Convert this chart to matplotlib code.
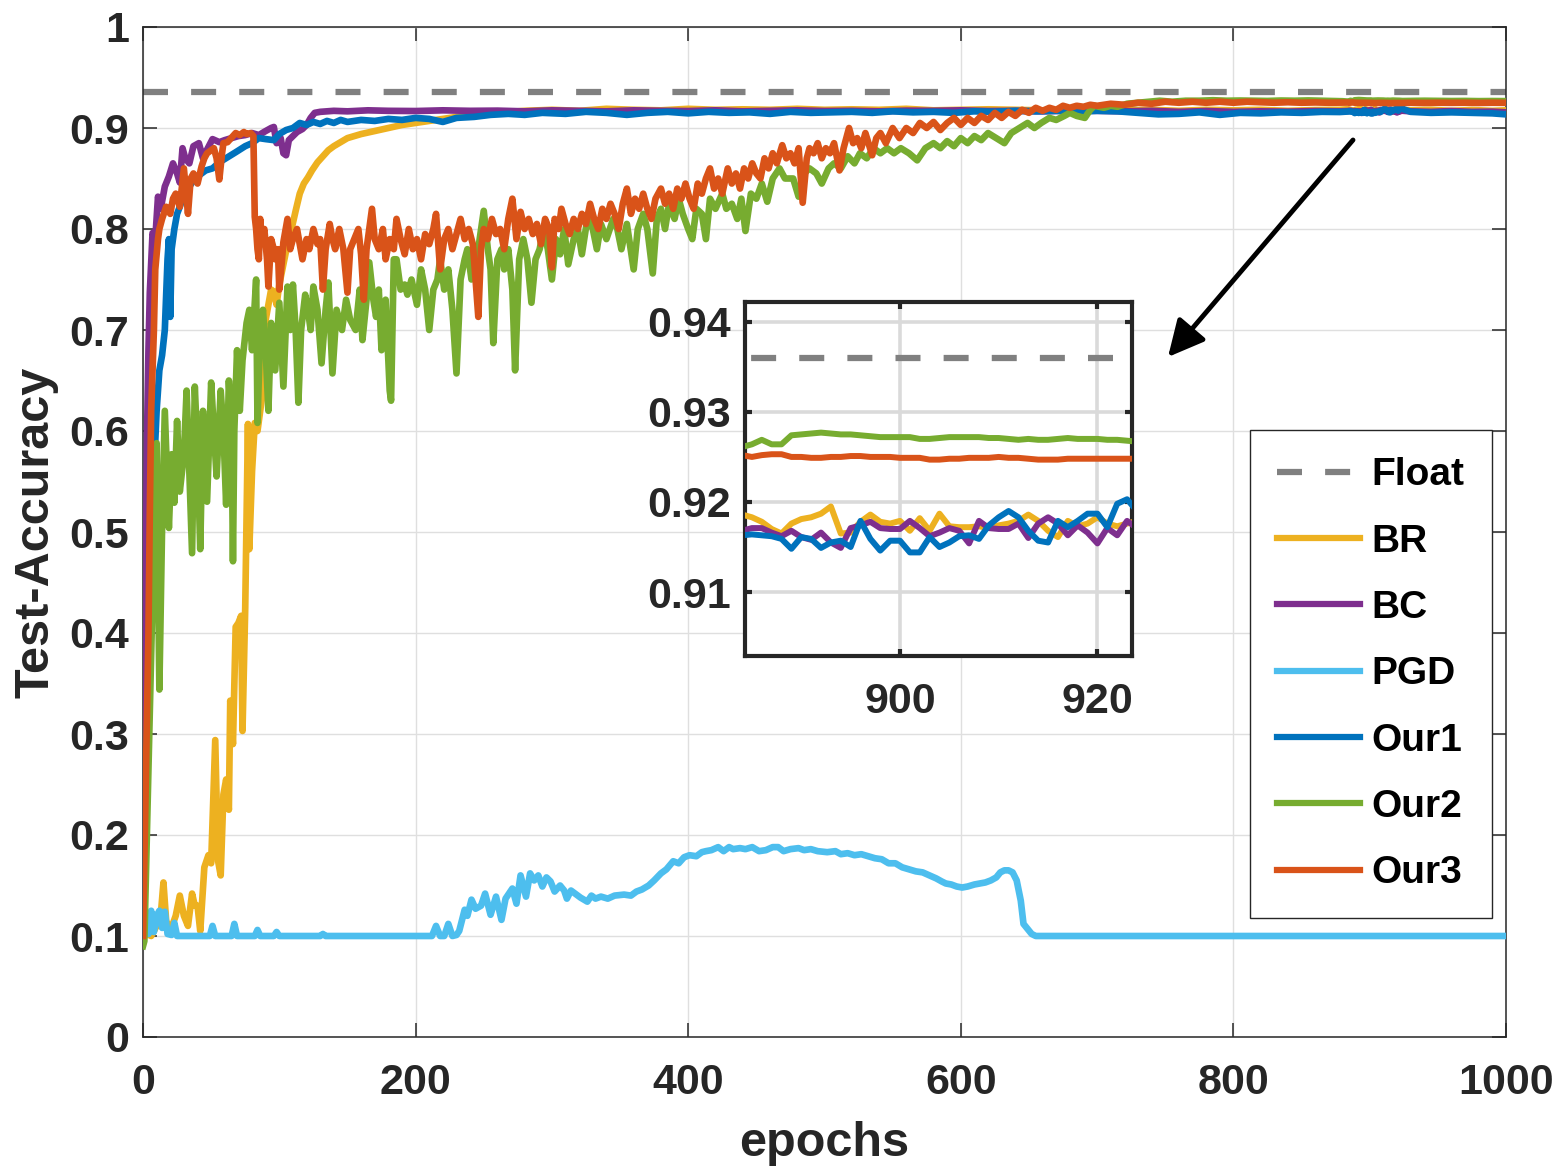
import numpy as np
import matplotlib
matplotlib.use("Agg")
import matplotlib.pyplot as plt
from matplotlib.lines import Line2D

# =========================
# DADOS
# =========================

FLOAT_ACC = 0.936

# (epoch, accuracy)
BR_POINTS = [
    (0, 0.100), (3, 0.102), (6, 0.100), (10, 0.110), (13, 0.120), (15, 0.153), (17, 0.115),
    (20, 0.105), (24, 0.120), (27, 0.140), (30, 0.120), (33, 0.110), (36, 0.142), (38, 0.130),
    (40, 0.130), (42, 0.105), (45, 0.168), (48, 0.180), (50, 0.172), (53, 0.294), (55, 0.175),
    (57, 0.160), (59, 0.240), (61, 0.255), (63, 0.225), (64, 0.333), (66, 0.290), (68, 0.406),
    (70, 0.410), (72, 0.417), (73, 0.303), (75, 0.425), (77, 0.607), (78, 0.483), (80, 0.560),
    (82, 0.608), (84, 0.600), (86, 0.620), (88, 0.640), (90, 0.710), (92, 0.725), (94, 0.740),
    (96, 0.738), (98, 0.725), (100, 0.745), (103, 0.765), (106, 0.785), (109, 0.800),
    (112, 0.818), (115, 0.835), (118, 0.845), (121, 0.851), (124, 0.858), (128, 0.866),
    (132, 0.872), (136, 0.878), (140, 0.882), (145, 0.886), (150, 0.890), (160, 0.894),
    (170, 0.897), (180, 0.900), (190, 0.903), (200, 0.905), (215, 0.908), (230, 0.911),
    (245, 0.913), (260, 0.915), (280, 0.917), (300, 0.918), (320, 0.917), (340, 0.919),
    (360, 0.918), (380, 0.9175), (400, 0.919), (420, 0.918), (440, 0.9185), (460, 0.918),
    (480, 0.919), (500, 0.918), (520, 0.9185), (540, 0.918), (560, 0.919), (580, 0.9175),
    (600, 0.918), (620, 0.9185), (640, 0.918), (660, 0.9175), (680, 0.918), (700, 0.9185),
    (720, 0.9175), (740, 0.918), (760, 0.917), (780, 0.918), (800, 0.9175), (820, 0.918),
    (840, 0.917), (860, 0.9178), (878, 0.918), (930, 0.9175), (945, 0.918), (960, 0.917),
    (975, 0.9178), (990, 0.917), (1000, 0.9175),
]

BC_POINTS = [
    (0, 0.100), (1, 0.300), (2, 0.450), (3, 0.600), (4, 0.680), (5, 0.737), (7, 0.796),
    (9, 0.790), (11, 0.832), (13, 0.820), (16, 0.842), (19, 0.852), (22, 0.865), (25, 0.855),
    (27, 0.846), (29, 0.880), (31, 0.870), (34, 0.865), (37, 0.882), (41, 0.885), (44, 0.870),
    (46, 0.876), (51, 0.889), (56, 0.886), (60, 0.888), (65, 0.890), (70, 0.892), (75, 0.893),
    (80, 0.895), (85, 0.893), (90, 0.897), (94, 0.900), (96, 0.901), (98, 0.885), (101, 0.890),
    (103, 0.875), (105, 0.873), (107, 0.888), (110, 0.892), (113, 0.896), (117, 0.899),
    (120, 0.903), (123, 0.910), (126, 0.915), (130, 0.916), (140, 0.917), (150, 0.9165),
    (165, 0.9175), (180, 0.917), (200, 0.9168), (220, 0.9175), (240, 0.917), (260, 0.9172),
    (280, 0.9165), (300, 0.9175), (320, 0.917), (340, 0.9165), (360, 0.9175), (380, 0.917),
    (400, 0.9168), (420, 0.9175), (440, 0.9165), (460, 0.917), (480, 0.9175), (500, 0.9168),
    (520, 0.917), (540, 0.9165), (560, 0.9172), (580, 0.917), (600, 0.9175), (620, 0.9168),
    (640, 0.917), (660, 0.9165), (680, 0.9172), (700, 0.917), (720, 0.9165), (740, 0.917),
    (760, 0.916), (780, 0.9168), (800, 0.916), (820, 0.9165), (840, 0.9162), (860, 0.9168),
    (878, 0.9165), (930, 0.9165), (945, 0.916), (960, 0.9168), (975, 0.916), (990, 0.9162),
    (1000, 0.9155),
]

PGD_POINTS = [
    (0, 0.100), (2, 0.118), (4, 0.102), (6, 0.125), (8, 0.104), (10, 0.120), (12, 0.125),
    (14, 0.108), (16, 0.124), (18, 0.102), (21, 0.101), (23, 0.113), (25, 0.100), (49, 0.100),
    (51, 0.110), (53, 0.100), (65, 0.100), (67, 0.112), (69, 0.100), (82, 0.100), (84, 0.106),
    (86, 0.100), (96, 0.100), (98, 0.104), (100, 0.100), (130, 0.100), (132, 0.102),
    (134, 0.100), (212, 0.100), (215, 0.110), (218, 0.100), (221, 0.100), (224, 0.112),
    (227, 0.100), (230, 0.101), (232, 0.105), (236, 0.126), (238, 0.120), (241, 0.136),
    (244, 0.127), (248, 0.130), (251, 0.142), (255, 0.121), (259, 0.139), (263, 0.116),
    (266, 0.137), (271, 0.147), (274, 0.132), (277, 0.160), (281, 0.139), (284, 0.162),
    (287, 0.155), (290, 0.160), (293, 0.149), (296, 0.158), (299, 0.154), (302, 0.144),
    (306, 0.150), (309, 0.145), (311, 0.137), (314, 0.145), (317, 0.142), (321, 0.138),
    (326, 0.134), (329, 0.140), (332, 0.137), (336, 0.139), (341, 0.137), (346, 0.140),
    (353, 0.141), (358, 0.140), (362, 0.144), (366, 0.146), (371, 0.150), (375, 0.155),
    (380, 0.162), (384, 0.166), (389, 0.174), (393, 0.172), (397, 0.178), (401, 0.180),
    (406, 0.179), (410, 0.183), (413, 0.184), (417, 0.185), (422, 0.188), (426, 0.184),
    (430, 0.188), (433, 0.186), (438, 0.187), (442, 0.186), (447, 0.188), (452, 0.184),
    (457, 0.185), (462, 0.188), (466, 0.188), (470, 0.184), (475, 0.186), (481, 0.187),
    (485, 0.185), (490, 0.186), (495, 0.184), (502, 0.183), (508, 0.184), (512, 0.181),
    (517, 0.182), (522, 0.180), (527, 0.181), (532, 0.179), (537, 0.177), (542, 0.176),
    (547, 0.172), (552, 0.172), (557, 0.168), (562, 0.166), (567, 0.164), (572, 0.163),
    (577, 0.160), (582, 0.157), (586, 0.154), (589, 0.152), (593, 0.151), (597, 0.149),
    (601, 0.148), (605, 0.149), (610, 0.151), (614, 0.152), (618, 0.153), (622, 0.155),
    (626, 0.158), (629, 0.163), (632, 0.165), (635, 0.165), (638, 0.163), (641, 0.155),
    (644, 0.135), (646, 0.112), (649, 0.107), (652, 0.102), (655, 0.100), (1000, 0.100),
]

OUR1_POINTS = [
    (0, 0.100), (3, 0.300), (6, 0.480), (8, 0.560), (10, 0.620), (12, 0.660), (14, 0.675),
    (16, 0.700), (18, 0.770), (19, 0.790), (20, 0.713), (21, 0.780), (23, 0.800), (25, 0.815),
    (27, 0.822), (29, 0.830), (33, 0.840), (37, 0.848), (41, 0.853), (46, 0.858), (51, 0.860),
    (56, 0.866), (62, 0.871), (68, 0.876), (75, 0.882), (80, 0.885), (85, 0.890), (90, 0.889),
    (96, 0.888), (100, 0.894), (105, 0.898), (110, 0.900), (115, 0.905), (120, 0.903),
    (125, 0.906), (130, 0.904), (135, 0.907), (140, 0.905), (145, 0.908), (150, 0.906),
    (160, 0.908), (170, 0.907), (180, 0.909), (190, 0.908), (200, 0.910), (210, 0.909),
    (220, 0.906), (230, 0.910), (243, 0.911), (255, 0.913), (268, 0.914), (280, 0.913),
    (293, 0.915), (310, 0.914), (325, 0.916), (340, 0.915), (355, 0.913), (370, 0.915),
    (385, 0.916), (400, 0.9145), (415, 0.916), (430, 0.915), (445, 0.9155), (460, 0.914),
    (475, 0.916), (490, 0.915), (505, 0.9155), (520, 0.916), (535, 0.915), (550, 0.9165),
    (565, 0.9155), (580, 0.916), (595, 0.915), (610, 0.9165), (625, 0.916), (640, 0.917),
    (655, 0.9165), (670, 0.917), (685, 0.916), (700, 0.917), (715, 0.9165), (730, 0.915),
    (745, 0.9135), (760, 0.914), (775, 0.9155), (790, 0.913), (805, 0.915), (820, 0.9145),
    (835, 0.9155), (850, 0.915), (865, 0.916), (878, 0.9158), (930, 0.916), (945, 0.915),
    (960, 0.9155), (975, 0.915), (990, 0.9145), (1000, 0.9135),
]

OUR2_POINTS = [
    (0, 0.090), (1, 0.095), (9, 0.550), (10, 0.588), (12, 0.344), (14, 0.504), (16, 0.620),
    (19, 0.504), (21, 0.577), (23, 0.529), (25, 0.610), (27, 0.540), (30, 0.577), (32, 0.640),
    (34, 0.560), (36, 0.479), (38, 0.644), (40, 0.580), (42, 0.483), (44, 0.620), (47, 0.530),
    (50, 0.648), (52, 0.600), (54, 0.555), (57, 0.640), (59, 0.600), (61, 0.527), (63, 0.650),
    (65, 0.600), (66, 0.471), (67, 0.600), (69, 0.680), (71, 0.620), (73, 0.670), (76, 0.707),
    (78, 0.720), (80, 0.680), (83, 0.750), (84, 0.608), (86, 0.700), (88, 0.720), (90, 0.680),
    (92, 0.620), (94, 0.707), (97, 0.660), (100, 0.727), (103, 0.644), (106, 0.743),
    (108, 0.700), (110, 0.745), (112, 0.700), (114, 0.628), (116, 0.700), (119, 0.735),
    (121, 0.720), (123, 0.700), (125, 0.743), (128, 0.720), (131, 0.667), (134, 0.720),
    (136, 0.747), (139, 0.657), (142, 0.720), (146, 0.700), (149, 0.730), (152, 0.710),
    (156, 0.700), (159, 0.740), (161, 0.690), (164, 0.730), (166, 0.767), (169, 0.730),
    (171, 0.713), (173, 0.740), (175, 0.680), (178, 0.730), (181, 0.640), (182, 0.630),
    (184, 0.770), (186, 0.770), (189, 0.740), (192, 0.745), (194, 0.735), (197, 0.750),
    (201, 0.725), (204, 0.760), (207, 0.740), (210, 0.700), (213, 0.740), (216, 0.750),
    (218, 0.770), (221, 0.740), (224, 0.760), (227, 0.720), (230, 0.657), (233, 0.750),
    (236, 0.770), (238, 0.780), (241, 0.750), (244, 0.760), (247, 0.790), (250, 0.818),
    (253, 0.780), (255, 0.760), (257, 0.687), (260, 0.770), (263, 0.780), (265, 0.760),
    (268, 0.780), (271, 0.740), (273, 0.660), (276, 0.770), (279, 0.790), (282, 0.770),
    (285, 0.727), (288, 0.770), (291, 0.780), (294, 0.800), (297, 0.780), (300, 0.750),
    (303, 0.790), (306, 0.775), (309, 0.800), (312, 0.765), (316, 0.790), (319, 0.800),
    (322, 0.775), (326, 0.810), (330, 0.800), (333, 0.780), (336, 0.805), (340, 0.790),
    (345, 0.810), (348, 0.800), (351, 0.780), (355, 0.805), (360, 0.760), (363, 0.800),
    (367, 0.815), (370, 0.800), (374, 0.756), (377, 0.810), (380, 0.820), (383, 0.800),
    (386, 0.825), (390, 0.810), (393, 0.830), (396, 0.815), (400, 0.800), (403, 0.790),
    (406, 0.820), (410, 0.815), (413, 0.790), (416, 0.830), (420, 0.820), (425, 0.835),
    (428, 0.820), (432, 0.825), (436, 0.810), (439, 0.830), (442, 0.798), (446, 0.835),
    (450, 0.830), (454, 0.845), (458, 0.827), (462, 0.850), (467, 0.860), (471, 0.850),
    (477, 0.850), (481, 0.832), (485, 0.855), (489, 0.860), (494, 0.855), (498, 0.845),
    (503, 0.860), (507, 0.865), (512, 0.860), (517, 0.872), (522, 0.865), (526, 0.875),
    (531, 0.870), (536, 0.880), (541, 0.875), (546, 0.880), (551, 0.875), (556, 0.880),
    (562, 0.875), (568, 0.868), (574, 0.880), (580, 0.885), (585, 0.880), (590, 0.887),
    (595, 0.882), (600, 0.890), (605, 0.885), (610, 0.892), (615, 0.888), (620, 0.895),
    (626, 0.890), (632, 0.885), (637, 0.895), (643, 0.900), (649, 0.905), (654, 0.900),
    (659, 0.905), (665, 0.910), (670, 0.908), (676, 0.912), (680, 0.915), (685, 0.912),
    (691, 0.910), (695, 0.918), (698, 0.922), (705, 0.920), (710, 0.922), (715, 0.921),
    (722, 0.924), (730, 0.925), (738, 0.926), (746, 0.927), (755, 0.926), (765, 0.927),
    (775, 0.927), (785, 0.9275), (795, 0.927), (805, 0.9272), (815, 0.927), (825, 0.9268),
    (835, 0.9272), (845, 0.927), (855, 0.9273), (865, 0.927), (875, 0.9268), (880, 0.9265),
    (930, 0.9268), (940, 0.927), (950, 0.9268), (960, 0.9267), (970, 0.9268), (980, 0.9266),
    (990, 0.9267), (1000, 0.9266),
]

OUR3_POINTS = [
    (0, 0.100), (2, 0.250), (4, 0.400), (5, 0.520), (6, 0.620), (7, 0.660), (8, 0.700),
    (9, 0.760), (11, 0.790), (12, 0.800), (14, 0.810), (17, 0.822), (20, 0.815), (22, 0.830),
    (24, 0.835), (27, 0.822), (30, 0.860), (33, 0.815), (35, 0.850), (37, 0.855), (40, 0.845),
    (43, 0.862), (45, 0.870), (47, 0.875), (50, 0.878), (52, 0.880), (54, 0.870), (56, 0.849),
    (58, 0.875), (59, 0.885), (62, 0.886), (64, 0.889), (66, 0.892), (68, 0.895), (71, 0.893),
    (74, 0.896), (76, 0.894), (79, 0.895), (81, 0.892), (82, 0.812), (83, 0.800), (84, 0.780),
    (85, 0.770), (86, 0.810), (87, 0.790), (89, 0.800), (91, 0.770), (92, 0.743), (94, 0.790),
    (96, 0.780), (97, 0.770), (99, 0.780), (100, 0.740), (102, 0.770), (103, 0.787),
    (106, 0.810), (108, 0.780), (110, 0.790), (113, 0.800), (115, 0.785), (117, 0.770),
    (120, 0.790), (122, 0.780), (125, 0.800), (128, 0.785), (130, 0.790), (132, 0.740),
    (134, 0.780), (137, 0.805), (139, 0.790), (141, 0.780), (144, 0.800), (147, 0.780),
    (150, 0.737), (152, 0.780), (155, 0.790), (158, 0.800), (160, 0.775), (162, 0.730),
    (164, 0.780), (166, 0.800), (168, 0.820), (170, 0.790), (173, 0.780), (176, 0.800),
    (178, 0.770), (181, 0.790), (184, 0.780), (186, 0.810), (189, 0.790), (192, 0.775),
    (195, 0.800), (198, 0.780), (201, 0.790), (204, 0.770), (207, 0.795), (210, 0.785),
    (213, 0.800), (215, 0.815), (218, 0.760), (221, 0.790), (224, 0.800), (227, 0.780),
    (230, 0.795), (233, 0.810), (236, 0.790), (239, 0.800), (242, 0.785), (244, 0.750),
    (246, 0.713), (248, 0.780), (250, 0.800), (253, 0.790), (256, 0.810), (259, 0.795),
    (262, 0.800), (265, 0.780), (268, 0.810), (271, 0.830), (274, 0.790), (277, 0.817),
    (280, 0.800), (283, 0.810), (286, 0.795), (289, 0.805), (292, 0.785), (295, 0.810),
    (298, 0.800), (300, 0.762), (302, 0.810), (305, 0.800), (307, 0.820), (310, 0.805),
    (313, 0.795), (316, 0.810), (319, 0.800), (322, 0.815), (325, 0.805), (328, 0.825),
    (331, 0.810), (334, 0.800), (337, 0.820), (340, 0.810), (343, 0.825), (346, 0.815),
    (349, 0.800), (352, 0.825), (355, 0.840), (358, 0.815), (361, 0.830), (364, 0.820),
    (367, 0.835), (370, 0.820), (373, 0.810), (376, 0.830), (380, 0.840), (383, 0.825),
    (386, 0.835), (389, 0.820), (392, 0.840), (395, 0.830), (398, 0.845), (401, 0.830),
    (404, 0.820), (407, 0.845), (410, 0.835), (413, 0.850), (416, 0.860), (419, 0.840),
    (422, 0.850), (425, 0.835), (429, 0.860), (432, 0.845), (435, 0.855), (438, 0.840),
    (441, 0.860), (444, 0.850), (447, 0.865), (450, 0.855), (453, 0.850), (456, 0.870),
    (459, 0.860), (462, 0.875), (465, 0.865), (469, 0.883), (472, 0.870), (475, 0.875),
    (478, 0.865), (481, 0.880), (484, 0.826), (487, 0.870), (489, 0.880), (492, 0.875),
    (495, 0.885), (498, 0.870), (501, 0.880), (504, 0.875), (507, 0.885), (511, 0.858),
    (514, 0.880), (518, 0.900), (521, 0.885), (524, 0.890), (527, 0.880), (530, 0.895),
    (535, 0.873), (538, 0.890), (541, 0.895), (545, 0.885), (550, 0.900), (555, 0.890),
    (560, 0.900), (565, 0.895), (570, 0.905), (575, 0.900), (580, 0.906), (585, 0.898),
    (590, 0.905), (595, 0.910), (600, 0.903), (605, 0.910), (610, 0.905), (615, 0.912),
    (620, 0.908), (625, 0.915), (630, 0.910), (635, 0.916), (640, 0.912), (645, 0.918),
    (650, 0.915), (655, 0.920), (660, 0.917), (665, 0.920), (670, 0.918), (675, 0.922),
    (680, 0.920), (685, 0.922), (690, 0.921), (695, 0.923), (700, 0.922), (710, 0.924),
    (720, 0.923), (730, 0.925), (740, 0.924), (750, 0.926), (760, 0.925), (770, 0.926),
    (780, 0.925), (790, 0.926), (800, 0.925), (810, 0.926), (820, 0.9255), (830, 0.925),
    (840, 0.9255), (850, 0.925), (860, 0.9253), (870, 0.925), (880, 0.9252), (930, 0.925),
    (940, 0.9248), (950, 0.925), (960, 0.9249), (970, 0.925), (980, 0.9248), (990, 0.925),
    (1000, 0.9249),
]

# valores por época dentro da janela ampliada (884..924)
INSET_EPOCHS = np.arange(884, 925)

BR_INSET = [
    0.9186, 0.9183, 0.9178, 0.9170, 0.9165, 0.9176, 0.9181, 0.9183, 0.9187, 0.9195,
    0.9165, 0.9166, 0.9178, 0.9186, 0.9178, 0.9176, 0.9179, 0.9168, 0.9182, 0.9168,
    0.9187, 0.9173, 0.9172, 0.9172, 0.9173, 0.9171, 0.9174, 0.9176, 0.9179, 0.9186,
    0.9179, 0.9168, 0.9161, 0.9179, 0.9173, 0.9176, 0.9183, 0.9176, 0.9173, 0.9176,
    0.9179,
]
BC_INSET = [
    0.9168, 0.9171, 0.9171, 0.9166, 0.9162, 0.9168, 0.9161, 0.9158, 0.9166, 0.9155,
    0.9149, 0.9171, 0.9174, 0.9178, 0.9171, 0.9170, 0.9170, 0.9179, 0.9171, 0.9162,
    0.9166, 0.9171, 0.9168, 0.9154, 0.9179, 0.9171, 0.9170, 0.9170, 0.9176, 0.9160,
    0.9176, 0.9183, 0.9176, 0.9163, 0.9174, 0.9166, 0.9154, 0.9171, 0.9163, 0.9179,
    0.9171,
]
OUR1_INSET = [
    0.9163, 0.9164, 0.9163, 0.9162, 0.9159, 0.9148, 0.9161, 0.9159, 0.9149, 0.9155,
    0.9157, 0.9150, 0.9179, 0.9159, 0.9146, 0.9157, 0.9157, 0.9144, 0.9144, 0.9161,
    0.9150, 0.9155, 0.9162, 0.9163, 0.9159, 0.9174, 0.9183, 0.9190, 0.9183, 0.9168,
    0.9157, 0.9155, 0.9179, 0.9172, 0.9179, 0.9187, 0.9187, 0.9172, 0.9198, 0.9203,
    0.9190,
]
OUR2_INSET = [
    0.9261, 0.9264, 0.9269, 0.9264, 0.9264, 0.9274, 0.9275, 0.9276, 0.9277, 0.9276,
    0.9275, 0.9275, 0.9274, 0.9273, 0.9272, 0.9272, 0.9272, 0.9272, 0.9270, 0.9270,
    0.9271, 0.9272, 0.9272, 0.9272, 0.9272, 0.9271, 0.9271, 0.9270, 0.9269, 0.9270,
    0.9269, 0.9269, 0.9270, 0.9271, 0.9270, 0.9270, 0.9270, 0.9269, 0.9269, 0.9268,
    0.9267,
]
OUR3_INSET = [
    0.9252, 0.9250, 0.9252, 0.9253, 0.9253, 0.9250, 0.9250, 0.9249, 0.9249, 0.9250,
    0.9250, 0.9251, 0.9251, 0.9250, 0.9250, 0.9250, 0.9249, 0.9249, 0.9249, 0.9247,
    0.9247, 0.9248, 0.9248, 0.9249, 0.9249, 0.9249, 0.9250, 0.9249, 0.9249, 0.9248,
    0.9247, 0.9247, 0.9247, 0.9248, 0.9248, 0.9248, 0.9248, 0.9248, 0.9248, 0.9248,
    0.9248,
]

LABELS = ["Float", "BR", "BC", "PGD", "Our1", "Our2", "Our3"]
COLORS = {
    "Float": "#808080",
    "BR": "#EDB120",
    "BC": "#7E2F8E",
    "PGD": "#4DBEEE",
    "Our1": "#0072BD",
    "Our2": "#77AC30",
    "Our3": "#D95319",
}

X_TICKS = [0, 200, 400, 600, 800, 1000]
Y_TICKS = [0, 0.1, 0.2, 0.3, 0.4, 0.5, 0.6, 0.7, 0.8, 0.9, 1.0]
Y_TICK_LABELS = ["0", "0.1", "0.2", "0.3", "0.4", "0.5", "0.6", "0.7", "0.8", "0.9", "1"]
INSET_X_TICKS = [900, 920]
INSET_Y_TICKS = [0.91, 0.92, 0.93, 0.94]

# =========================
# ESTILO
# =========================

AX_COLOR = "#262626"
GRID_COLOR = "#dfdfdf"
LW = 4.8
LW_INSET = 4.3
FLOAT_DASH = (0, (4.0, 3.7))


def setup_style():
    plt.rcParams["font.family"] = ["Liberation Sans", "DejaVu Sans"]
    plt.rcParams["font.weight"] = "bold"
    plt.rcParams["axes.labelweight"] = "bold"


def merge_series(points, inset_vals=None):
    pts = list(points)
    if inset_vals is not None:
        pts += list(zip(INSET_EPOCHS, inset_vals))
    pts.sort(key=lambda p: p[0])
    x = np.array([p[0] for p in pts], dtype=float)
    y = np.array([p[1] for p in pts], dtype=float)
    return x, y


def series_table():
    return {
        "BR": merge_series(BR_POINTS, BR_INSET),
        "BC": merge_series(BC_POINTS, BC_INSET),
        "PGD": merge_series(PGD_POINTS),
        "Our1": merge_series(OUR1_POINTS, OUR1_INSET),
        "Our2": merge_series(OUR2_POINTS, OUR2_INSET),
        "Our3": merge_series(OUR3_POINTS, OUR3_INSET),
    }


def plot_main(fig, ax, data):
    ax.plot([0, 1000], [FLOAT_ACC, FLOAT_ACC], color=COLORS["Float"], lw=4.5,
            linestyle=FLOAT_DASH, zorder=2)
    for name in LABELS[1:]:
        x, y = data[name]
        ax.plot(x, y, color=COLORS[name], lw=LW, solid_joinstyle="round", zorder=3)

    ax.set_xlim(0, 1000)
    ax.set_ylim(0, 1)
    ax.set_xticks(X_TICKS)
    ax.set_yticks(Y_TICKS)
    ax.set_yticklabels(Y_TICK_LABELS)
    ax.grid(True, color=GRID_COLOR, lw=1.0)
    ax.set_axisbelow(True)
    ax.tick_params(direction="in", length=10, width=1.1, top=True, right=True,
                   labelsize=31, colors=AX_COLOR)
    ax.tick_params(axis="x", pad=19)
    ax.tick_params(axis="y", pad=10)
    for sp in ax.spines.values():
        sp.set_color(AX_COLOR)
        sp.set_linewidth(1.1)

    ax.set_xlabel("epochs", fontsize=35, fontweight="bold", color=AX_COLOR, labelpad=13)
    ax.set_ylabel("Test-Accuracy", fontsize=35, fontweight="bold", color=AX_COLOR, labelpad=8)

    handles = [Line2D([0], [0], color=COLORS["Float"], lw=4.5, linestyle=FLOAT_DASH)]
    handles += [Line2D([0], [0], color=COLORS[n], lw=4.5) for n in LABELS[1:]]
    leg = ax.legend(handles, LABELS, loc="upper left",
                    bbox_to_anchor=(1250 / 1556, 1 - 430 / 1167),
                    bbox_transform=fig.transFigure, borderaxespad=0,
                    prop={"size": 28, "weight": "bold"}, frameon=True, fancybox=False,
                    edgecolor=AX_COLOR, framealpha=1, borderpad=0.7, labelspacing=0.78,
                    handlelength=2.13, handletextpad=0.3)
    leg.get_frame().set_linewidth(1.0)
    leg.set_zorder(10)

    ax.annotate("", xy=(1168 / 1556, 1 - 357 / 1167), xycoords="figure fraction",
                xytext=(1353 / 1556, 1 - 140 / 1167), textcoords="figure fraction",
                arrowprops=dict(arrowstyle="-|>,head_length=1.1,head_width=0.55",
                                lw=3.5, color="black", mutation_scale=20,
                                shrinkA=0, shrinkB=0),
                annotation_clip=False)


def plot_inset(fig, data):
    ax_in = fig.add_axes([745 / 1556, 1 - 656 / 1167, (1132 - 745) / 1556, (656 - 302) / 1167])
    ax_in.plot([880, 930], [FLOAT_ACC, FLOAT_ACC], color=COLORS["Float"], lw=4.5,
               linestyle=FLOAT_DASH, zorder=2)
    for name in ["BR", "BC", "PGD", "Our1", "Our2", "Our3"]:
        x, y = data[name]
        ax_in.plot(x, y, color=COLORS[name], lw=LW_INSET, solid_joinstyle="round", zorder=3)

    ax_in.set_xlim(884.3, 923.5)
    ax_in.set_ylim(0.9029, 0.9422)
    ax_in.set_xticks(INSET_X_TICKS)
    ax_in.set_yticks(INSET_Y_TICKS)
    ax_in.set_yticklabels(["0.91", "0.92", "0.93", "0.94"])
    ax_in.grid(True, color="#dadada", lw=2.6)
    ax_in.set_axisbelow(True)
    ax_in.tick_params(direction="in", length=5, width=3, top=True, right=True,
                      labelsize=31, colors=AX_COLOR)
    ax_in.tick_params(axis="x", pad=19)
    ax_in.tick_params(axis="y", pad=10)
    for sp in ax_in.spines.values():
        sp.set_color(AX_COLOR)
        sp.set_linewidth(3.0)
    return ax_in


if __name__ == "__main__":
    setup_style()
    data = series_table()

    fig = plt.figure(figsize=(15.56, 11.67), dpi=100)
    ax = fig.add_axes([143 / 1556, 1 - 1037 / 1167, (1506 - 143) / 1556, (1037 - 27) / 1167])
    plot_main(fig, ax, data)
    plot_inset(fig, data)

    fig.savefig("out.png", dpi=100)
    plt.close(fig)
